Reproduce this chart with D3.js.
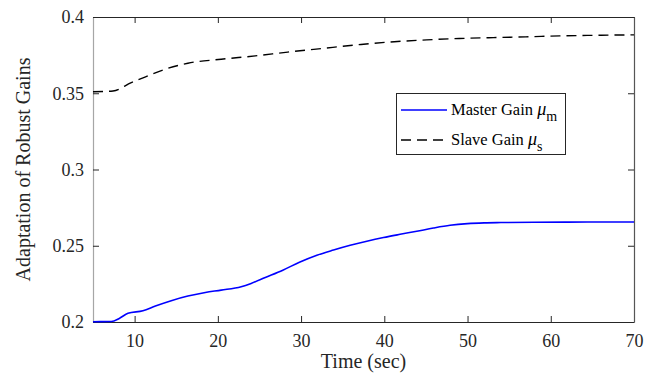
<!DOCTYPE html>
<html>
<head>
<meta charset="utf-8">
<script src="https://cdn.jsdelivr.net/npm/d3@7"></script>
<style>
  html, body { margin: 0; padding: 0; background: #fff; }
  svg { display: block; }
  svg text { font-family: "Liberation Serif", "Times New Roman", "DejaVu Serif", serif !important; }
</style>
</head>
<body>
<svg id="chart" width="652" height="377"></svg>
<script>
// Adaptation of robust gains over time
const masterTime = [5, 7.2, 8.2, 9.2, 11, 12.5, 14.4, 16.4, 18.5, 20.4, 22.8, 24, 25.7, 27.8, 29.8, 31.9, 33.9, 35.9, 37.9, 39.9, 41.9, 43.9, 45.9, 47.9, 50, 52, 54, 58, 62, 66, 70];
const masterGain = [0.2002, 0.2003, 0.2025, 0.2057, 0.2074, 0.2105, 0.214, 0.217, 0.2194, 0.2209, 0.2231, 0.2253, 0.2292, 0.234, 0.2392, 0.2438, 0.2472, 0.2503, 0.253, 0.2554, 0.2575, 0.2595, 0.2616, 0.2634, 0.2645, 0.265, 0.2652, 0.2654, 0.2655, 0.2656, 0.2656];

const slaveTime = [5, 7.4, 9.6, 11.6, 13.7, 16.4, 20.4, 24.5, 28.4, 32.4, 37.2, 41.2, 45.1, 49, 53.1, 57, 61.1, 65.3, 70];
const slaveGain = [0.351, 0.3515, 0.357, 0.3614, 0.3658, 0.3697, 0.3723, 0.3745, 0.377, 0.3793, 0.382, 0.3838, 0.385, 0.3859, 0.3865, 0.387, 0.3876, 0.388, 0.3883];

const xTicks = [10, 20, 30, 40, 50, 60, 70];
const yTicks = [0.2, 0.25, 0.3, 0.35, 0.4];

const margin = { left: 93, right: 18, top: 17, bottom: 55 };
const W = 652, H = 377;
const serif = '"Liberation Serif", "Times New Roman", "DejaVu Serif", serif';
const svg = d3.select("#chart");

const x = d3.scaleLinear().domain([5, 70]).range([margin.left, W - margin.right]);
const y = d3.scaleLinear().domain([0.2, 0.4]).range([H - margin.bottom, margin.top]);

const x0 = x.range()[0], x1 = x.range()[1];
const y0 = y.range()[0], y1 = y.range()[1];

// Axes: ticks pointing inward, mirrored on top and right
const bottomAxis = d3.axisBottom(x).tickValues(xTicks).tickSizeInner(-6).tickSizeOuter(0).tickPadding(12).tickFormat(d3.format("d"));
const topAxis = d3.axisTop(x).tickValues(xTicks).tickSizeInner(-6).tickSizeOuter(0).tickFormat("");
const leftAxis = d3.axisLeft(y).tickValues(yTicks).tickSizeInner(-6).tickSizeOuter(0).tickPadding(9).tickFormat(d => String(+d.toFixed(2)));
const rightAxis = d3.axisRight(y).tickValues(yTicks).tickSizeInner(-6).tickSizeOuter(0).tickFormat("");

function styleAxis(g, spineColor) {
  g.attr("font-family", null).attr("font-size", null);
  g.select(".domain").attr("stroke", spineColor).attr("stroke-width", 1.2);
  g.selectAll(".tick line").attr("stroke", "#262626").attr("stroke-width", 1);
  g.selectAll(".tick text").attr("fill", "#262626")
    .style("font-size", "18px").style("font-family", serif);
}

svg.append("g").attr("transform", `translate(0,${y0})`).call(bottomAxis).call(g => styleAxis(g, "#262626"));
svg.append("g").attr("transform", `translate(0,${y1})`).call(topAxis).call(g => styleAxis(g, "#262626"));
svg.append("g").attr("transform", `translate(${x0},0)`).call(leftAxis).call(g => styleAxis(g, "#a6a6a6"));
svg.append("g").attr("transform", `translate(${x1},0)`).call(rightAxis).call(g => styleAxis(g, "#555"));

// Curves
const line = d3.line().x(d => x(d[0])).y(d => y(d[1])).curve(d3.curveMonotoneX);

svg.append("path")
  .datum(slaveTime.map((t, i) => [t, slaveGain[i]]))
  .attr("d", line)
  .attr("fill", "none").attr("stroke", "#000").attr("stroke-width", 1.4)
  .attr("stroke-dasharray", "10,6");

svg.append("path")
  .datum(masterTime.map((t, i) => [t, masterGain[i]]))
  .attr("d", line)
  .attr("fill", "none").attr("stroke", "#0000ff").attr("stroke-width", 1.6);

// Axis titles
svg.append("text")
  .attr("x", (x0 + x1) / 2).attr("y", 368)
  .attr("text-anchor", "middle").attr("fill", "#262626")
  .style("font-size", "20px").style("font-family", serif)
  .text("Time (sec)");

svg.append("text")
  .attr("transform", `translate(30,${(y0 + y1) / 2}) rotate(-90)`)
  .attr("text-anchor", "middle").attr("fill", "#262626")
  .style("font-size", "20px").style("font-family", serif)
  .text("Adaptation of Robust Gains");

// Legend
const legend = svg.append("g");
legend.append("rect")
  .attr("x", 396.5).attr("y", 93.5).attr("width", 169).attr("height", 61)
  .attr("fill", "#fff").attr("stroke", "#262626").attr("stroke-width", 1);

const entries = [
  { name: "Master Gain ", sub: "m", color: "#0000ff", dash: null, w: 1.6 },
  { name: "Slave Gain ", sub: "s", color: "#000", dash: "10,6", w: 1.4 }
];
entries.forEach((e, i) => {
  const cy = 110 + i * 30;
  legend.append("line")
    .attr("x1", 401).attr("x2", 447).attr("y1", cy).attr("y2", cy)
    .attr("stroke", e.color).attr("stroke-width", e.w)
    .attr("stroke-dasharray", e.dash);
  const t = legend.append("text")
    .attr("x", 451).attr("y", cy + 5).attr("fill", "#000")
    .style("font-size", "16.5px").style("font-family", serif);
  t.append("tspan").text(e.name);
  t.append("tspan").attr("font-style", "italic").style("font-size", "18px").text("μ");
  t.append("tspan").attr("dy", 6).style("font-size", "14px").text(e.sub);
});
</script>
</body>
</html>
